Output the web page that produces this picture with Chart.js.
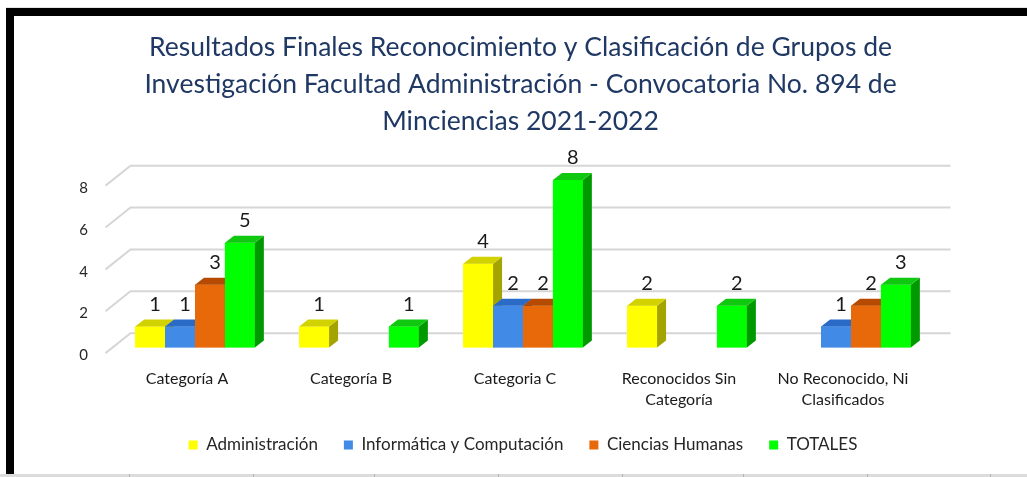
<!DOCTYPE html>
<html>
<head>
<meta charset="utf-8">
<script src="https://cdn.jsdelivr.net/npm/chart.js@4.4.1/dist/chart.umd.min.js"></script>
<style>
  html, body { margin: 0; padding: 0; background: #fff; }
  body { width: 1027px; height: 477px; position: relative; overflow: hidden; }
  #topline { position: absolute; left: 6px; top: 7px; width: 1021px; height: 1px; background: #e4e4e4; }
  #topband { position: absolute; left: 6px; top: 8px; width: 1021px; height: 8px; background: #000; }
  #leftband { position: absolute; left: 6px; top: 8px; width: 8px; height: 466px; background: #000; }
  #bottom { position: absolute; left: 0; top: 474px; width: 1027px; height: 3px; background: #dcdcdc; }
  .sep { position: absolute; top: 474px; width: 1px; height: 3px; background: #b4b4b4; }
  #wrap { position: absolute; left: 14px; top: 16px; width: 1013px; height: 458px; }
</style>
</head>
<body>
<div id="topline"></div>
<div id="topband"></div>
<div id="leftband"></div>
<div id="bottom"></div>
<div class="sep" style="left:129px"></div>
<div class="sep" style="left:253px"></div>
<div class="sep" style="left:374px"></div>
<div class="sep" style="left:498px"></div>
<div class="sep" style="left:622px"></div>
<div class="sep" style="left:743px"></div>
<div class="sep" style="left:867px"></div>
<div class="sep" style="left:990px"></div>
<div id="wrap"><canvas id="c" width="1013" height="458"></canvas></div>
<script>
// ---- data ----
const titleLines = [
  'Resultados Finales Reconocimiento y Clasificación de Grupos de',
  'Investigación Facultad Administración - Convocatoria No. 894 de',
  'Minciencias 2021-2022'
];
const categories = [
  'Categoría A',
  'Categoría B',
  'Categoria C',
  ['Reconocidos Sin', 'Categoría'],
  ['No Reconocido, Ni', 'Clasificados']
];
const seriesNames = ['Administración', 'Informática y Computación', 'Ciencias Humanas', 'TOTALES'];
const administracion = [1, 1, 4, 2, 0];
const informatica    = [1, 0, 2, 0, 1];
const cienciasHum    = [3, 0, 2, 0, 2];
const totales        = [5, 1, 8, 2, 3];
const yTicks = [0, 2, 4, 6, 8];

// ---- styles ----
const FONT = 'Lato, "Open Sans", sans-serif';
const frontColors = ['#FFFF00', '#418AE6', '#E8690A', '#00FF00'];
const topColors   = ['#D2D200', '#2A6BC8', '#B54A00', '#10C810'];
const sideColors  = ['#A4A400', '#1E5AB2', '#9E3F00', '#009A00'];
const DX = 9, DY = 7;                   // bar depth projection
const BACK = { dx: 17.5, dy: -14.3 };   // back wall offset from bar plane
const FRONT = { dx: -7.5, dy: 5.6 };    // front edge offset from bar plane

const seriesValues = [administracion, informatica, cienciasHum, totales];

const datasets = seriesValues.map((vals, i) => ({
  label: seriesNames[i],
  data: vals,
  backgroundColor: frontColors[i],
  borderWidth: 0,
  categoryPercentage: 0.73,
  barPercentage: 1.0
}));

const threeD = {
  id: 'threeD',
  beforeDatasetsDraw(chart) {
    const ctx = chart.ctx;
    const y = chart.scales.y;
    const area = chart.chartArea;
    ctx.save();
    ctx.strokeStyle = '#d6d6d6';
    ctx.lineWidth = 2;
    yTicks.forEach(v => {
      const py = y.getPixelForValue(v);
      ctx.beginPath();
      ctx.moveTo(area.left + FRONT.dx, py + FRONT.dy);
      ctx.lineTo(area.left + BACK.dx, py + BACK.dy);
      ctx.lineTo(area.right + BACK.dx, py + BACK.dy);
      ctx.stroke();
    });
    ctx.restore();
  },
  afterDatasetsDraw(chart) {
    const ctx = chart.ctx;
    ctx.save();
    // repaint bars left-to-right inside each group so side faces are hidden correctly
    chart.data.datasets.forEach((ds, di) => {
      const meta = chart.getDatasetMeta(di);
      meta.data.forEach((bar, k) => {
        const v = ds.data[k];
        if (!v) return;
        bar.draw(ctx);
        const p = bar.getProps(['x', 'y', 'base', 'width'], true);
        const x0 = p.x - p.width / 2, x1 = p.x + p.width / 2;
        const top = p.y, base = p.base;
        ctx.fillStyle = sideColors[di];
        ctx.beginPath();
        ctx.moveTo(x1, top);
        ctx.lineTo(x1 + DX, top - DY);
        ctx.lineTo(x1 + DX, base - DY);
        ctx.lineTo(x1, base);
        ctx.closePath();
        ctx.fill();
        ctx.fillStyle = topColors[di];
        ctx.beginPath();
        ctx.moveTo(x0, top);
        ctx.lineTo(x0 + DX, top - DY);
        ctx.lineTo(x1 + DX, top - DY);
        ctx.lineTo(x1, top);
        ctx.closePath();
        ctx.fill();
      });
    });
    // value labels
    ctx.font = '20px ' + FONT;
    ctx.fillStyle = '#1a1a1a';
    ctx.textAlign = 'center';
    ctx.textBaseline = 'middle';
    chart.data.datasets.forEach((ds, di) => {
      const meta = chart.getDatasetMeta(di);
      meta.data.forEach((bar, k) => {
        const v = ds.data[k];
        if (!v) return;
        const p = bar.getProps(['x', 'y'], true);
        ctx.fillText(String(v), p.x + 5, p.y - 22);
      });
    });
    ctx.restore();
  }
};

new Chart(document.getElementById('c'), {
  type: 'bar',
  data: { labels: categories, datasets },
  options: {
    responsive: false,
    animation: false,
    events: [],
    layout: { padding: { left: 0, right: 0, top: 0, bottom: 10.5 } },
    scales: {
      x: {
        grid: { display: false },
        border: { display: false },
        ticks: {
          color: '#1a1a1a',
          font: { family: FONT, size: 16, lineHeight: 1.3 },
          padding: 13,
          labelOffset: -8,
          maxRotation: 0,
          autoSkip: false
        },
        afterFit(s) { s.height = 63; }
      },
      y: {
        min: 0, max: 8,
        grid: { display: false },
        border: { display: false },
        ticks: {
          stepSize: 2,
          color: '#262626',
          font: { family: FONT, size: 15 },
          padding: 17,
          labelOffset: 8
        },
        afterFit(s) { s.width = 99; }
      },
      y2: {
        position: 'right',
        display: true,
        grid: { display: false },
        border: { display: false },
        ticks: { display: false },
        afterFit(s) { s.width = 94; }
      }
    },
    plugins: {
      title: {
        display: true,
        text: titleLines,
        color: '#1F3864',
        font: { family: FONT, size: 26.5, weight: 'normal', lineHeight: '37px' },
        padding: { top: 12.5, bottom: 40.5 }
      },
      legend: {
        position: 'bottom',
        fullSize: false,
        labels: {
          boxWidth: 9,
          boxHeight: 9,
          padding: 26,
          color: '#262626',
          font: { family: FONT, size: 17 }
        }
      },
      tooltip: { enabled: false }
    }
  },
  plugins: [threeD]
});
</script>
</body>
</html>
